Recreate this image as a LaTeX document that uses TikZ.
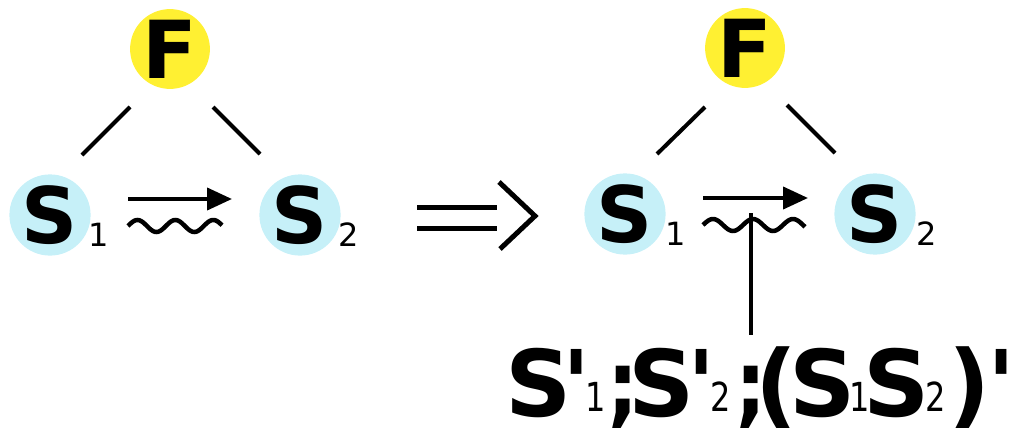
\documentclass[tikz,border=0pt]{standalone}
\usepackage{fontspec}
\usepackage{graphicx}
\newfontfamily\dv{DejaVu Sans}
\usetikzlibrary{arrows.meta,calc}
\definecolor{fyellow}{RGB}{255,240,50}
\definecolor{scyan}{RGB}{198,240,248}
\tikzset{
  fnode/.style={circle,fill=fyellow,minimum size=76pt,inner sep=0pt,font=\dv\bfseries\fontsize{80}{80}\selectfont},
  snode/.style={circle,fill=scyan,minimum size=76pt,inner sep=0pt,font=\dv\bfseries\fontsize{78}{78}\selectfont},
  subnode/.style={inner sep=0pt,font=\dv\fontsize{32}{32}\selectfont},
  conn/.style={line width=4pt},
  trans/.style={line width=4pt,-{Triangle[length=25pt,width=22pt]}},
  wave/.style={line width=4.5pt},
  implies/.style={line width=5pt},
}
\newcommand{\mysub}[1]{{\mdseries\fontsize{40}{40}\selectfont\raisebox{5pt}{\scalebox{0.8}[1]{#1}}}}
\newcommand{\semi}{\scalebox{0.85}[1]{;}}
\newcommand{\pl}[2]{\rlap{\hspace*{#1pt}\makebox[0pt]{#2}}}
\begin{document}
\begin{tikzpicture}[x=1pt,y=-1pt]
\useasboundingbox (0,0) rectangle (1014,428);
% left diagram
\node[fnode] (F1) at (170,49) {F};
\node[snode] (S1a) at (50,215) {S};
\node[snode] (S2a) at (300,215) {S};
\node[subnode] (s1a) at ($(S1a)+(49,20)$) {1};
\node[subnode] (s2a) at ($(S2a)+(49,20)$) {2};
\draw[conn] ($(F1)+(-40,58)$) -- ($(S1a)+(32,-60)$);
\draw[conn] ($(F1)+(43,58)$) -- ($(S2a)+(-40,-61)$);
\coordinate (a1) at (128,199);
\coordinate (a2) at (232,199);
\draw[trans] (a1) -- (a2);
\draw[wave] plot[domain=0:94,samples=80,smooth] ({128+\x},{226-6*sin(\x*9.5)});
% implication
\coordinate (imp) at (535,216);
\draw[implies] (417,207) -- (497,207);
\draw[implies] (417,228) -- (497,228);
\draw[implies] (499,182) -- (imp) -- (500,249);
% right diagram
\node[fnode] (F2) at (745,48) {F};
\node[snode] (S1b) at (625,214) {S};
\node[snode] (S2b) at (875,214) {S};
\node[subnode] (s1b) at ($(S1b)+(51,20)$) {1};
\node[subnode] (s2b) at ($(S2b)+(52,20)$) {2};
\draw[conn] ($(F2)+(-40,59)$) -- ($(S1b)+(32,-60)$);
\draw[conn] ($(F2)+(42,57)$) -- ($(S2b)+(-40,-61)$);
\coordinate (b1) at (703,198);
\coordinate (b2) at (808,198);
\draw[trans] (b1) -- (b2);
\draw[wave] plot[domain=0:102,samples=80,smooth] ({703+\x},{225-6*sin(\x*9)});
\coordinate (cross) at (751,213);
\node[anchor=base west,inner sep=0pt,font=\dv\bfseries\fontsize{92}{92}\selectfont] (res) at (500,416)
  {\pl{38}{S}\pl{76}{'}\pl{95}{\mysub{1}}\pl{123}{\semi}\pl{161}{S}\pl{201}{'}\pl{220}{\mysub{2}}\pl{251}{\semi}%
   \pl{276}{(}\pl{322}{S}\pl{359}{\mysub{1}}\pl{396}{S}\pl{435}{\mysub{2}}\pl{469}{)}\pl{501}{'}\hspace*{514pt}};
\draw[conn,shorten >=11pt] (cross) -- (cross |- res.north);
\end{tikzpicture}
\end{document}
